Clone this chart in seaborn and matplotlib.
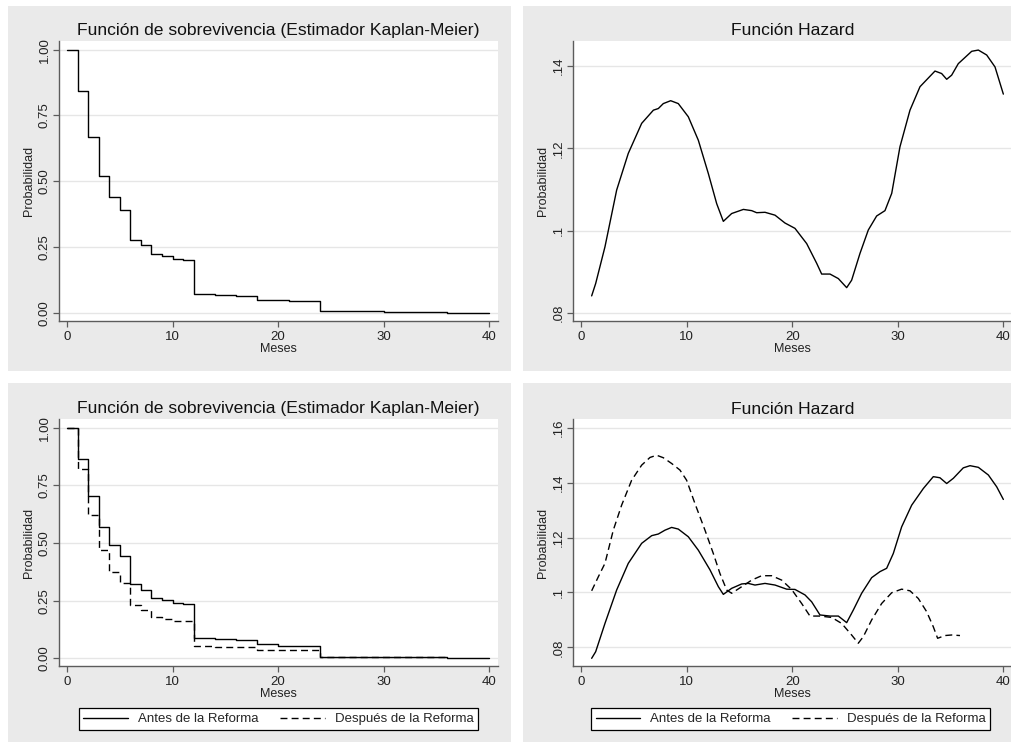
import matplotlib
matplotlib.use("Agg")
import matplotlib.pyplot as plt
from matplotlib.patches import Rectangle
from matplotlib.lines import Line2D
import pandas as pd
import seaborn as sns

# Supervivencia Kaplan-Meier, muestra completa
km_meses = [0, 1, 2, 3, 4, 5, 6, 7, 8, 9, 10, 11, 12, 14, 16, 18, 21, 24, 30, 36, 40]
km_total = [1.000, 0.843, 0.668, 0.521, 0.438, 0.389, 0.275, 0.256, 0.222, 0.214, 0.204,
            0.200, 0.072, 0.068, 0.065, 0.047, 0.044, 0.006, 0.003, 0.000, 0.000]

# Supervivencia Kaplan-Meier por grupo
km_antes_meses = [0, 1, 2, 3, 4, 5, 6, 7, 8, 9, 10, 11, 12, 14, 16, 18, 20, 24, 30, 36, 40]
km_antes = [1.000, 0.864, 0.705, 0.568, 0.491, 0.443, 0.321, 0.297, 0.260, 0.251, 0.241,
            0.237, 0.087, 0.082, 0.078, 0.061, 0.055, 0.007, 0.005, 0.000, 0.000]
km_despues_meses = [0, 1, 2, 3, 4, 5, 6, 7, 8, 9, 10, 11, 12, 14, 18, 24, 30, 36]
km_despues = [1.000, 0.821, 0.623, 0.469, 0.375, 0.328, 0.230, 0.208, 0.180, 0.172, 0.163,
              0.160, 0.055, 0.050, 0.036, 0.005, 0.004, 0.000]

# Función hazard suavizada, muestra completa
hz_meses = [0.98, 1.36, 2.24, 3.35, 4.45, 5.72, 6.83, 7.30, 7.77, 8.47, 9.19, 10.14, 11.09,
            12.04, 12.83, 13.46, 14.25, 15.36, 16.15, 16.62, 17.41, 18.36, 19.30, 20.25,
            21.36, 22.31, 22.78, 23.57, 24.36, 25.15, 25.62, 26.41, 27.20, 27.99, 28.78,
            29.42, 30.20, 31.15, 32.10, 33.52, 34.15, 34.63, 35.10, 35.73, 37.00, 37.63,
            38.42, 39.21, 40.00]
hz_total = [0.0842, 0.0872, 0.0961, 0.1099, 0.1188, 0.1261, 0.1293, 0.1297, 0.1309, 0.1316,
            0.1309, 0.1277, 0.1220, 0.1139, 0.1066, 0.1023, 0.1042, 0.1052, 0.1049, 0.1044,
            0.1045, 0.1038, 0.1019, 0.1006, 0.0969, 0.0921, 0.0895, 0.0895, 0.0884, 0.0862,
            0.0880, 0.0945, 0.1002, 0.1036, 0.1049, 0.1091, 0.1204, 0.1293, 0.1350, 0.1388,
            0.1382, 0.1368, 0.1378, 0.1406, 0.1436, 0.1439, 0.1427, 0.1398, 0.1332]

# Función hazard suavizada por grupo
hz_antes_meses = [0.98, 1.36, 2.24, 3.35, 4.45, 5.72, 6.67, 7.30, 7.93, 8.56, 9.19, 10.14,
                  11.09, 12.20, 12.99, 13.46, 14.25, 15.20, 15.83, 16.46, 17.41, 18.36,
                  19.46, 20.25, 21.20, 21.83, 22.62, 23.57, 24.36, 25.15, 25.78, 26.57,
                  27.52, 28.31, 28.94, 29.57, 30.36, 31.31, 32.42, 33.36, 33.99, 34.63,
                  35.26, 36.20, 36.84, 37.63, 38.58, 39.37, 40.00]
hz_antes = [0.0760, 0.0784, 0.0887, 0.1009, 0.1106, 0.1179, 0.1207, 0.1213, 0.1227, 0.1237,
            0.1231, 0.1203, 0.1154, 0.1082, 0.1021, 0.0993, 0.1015, 0.1031, 0.1033, 0.1027,
            0.1033, 0.1027, 0.1012, 0.1011, 0.0991, 0.0966, 0.0918, 0.0914, 0.0914, 0.0890,
            0.0936, 0.0997, 0.1054, 0.1076, 0.1088, 0.1142, 0.1239, 0.1318, 0.1379, 0.1422,
            0.1418, 0.1397, 0.1416, 0.1454, 0.1462, 0.1456, 0.1428, 0.1385, 0.1339]
hz_despues_meses = [0.98, 1.61, 2.24, 3.03, 3.82, 4.77, 5.72, 6.51, 7.14, 7.77, 8.56, 9.35,
                    9.98, 10.77, 11.72, 12.51, 13.14, 13.78, 14.25, 15.20, 16.15, 17.09,
                    18.04, 18.99, 19.93, 20.88, 21.67, 22.62, 23.73, 24.68, 25.62, 26.25,
                    26.73, 27.52, 28.47, 29.42, 30.36, 31.15, 31.94, 32.73, 33.36, 33.77,
                    34.47, 35.10, 35.89]
hz_despues = [0.1006, 0.1057, 0.1106, 0.1227, 0.1318, 0.1409, 0.1464, 0.1492, 0.1500, 0.1491,
              0.1470, 0.1446, 0.1409, 0.1324, 0.1227, 0.1142, 0.1069, 0.1009, 0.0997, 0.1021,
              0.1045, 0.1061, 0.1061, 0.1045, 0.1011, 0.0960, 0.0914, 0.0914, 0.0909, 0.0887,
              0.0845, 0.0815, 0.0839, 0.0900, 0.0960, 0.0999, 0.1012, 0.1006, 0.0978, 0.0930,
              0.0875, 0.0833, 0.0843, 0.0845, 0.0843]

grupos = ["Antes de la Reforma", "Después de la Reforma"]
titulo_km = "Función de sobrevivencia (Estimador Kaplan-Meier)"
titulo_hz = "Función Hazard"
km_ticks = [0, 0.25, 0.5, 0.75, 1.0]
km_ticklabels = ["0.00", "0.25", "0.50", "0.75", "1.00"]
hz_ticks_sup = [0.08, 0.10, 0.12, 0.14]
hz_ticks_inf = [0.08, 0.10, 0.12, 0.14, 0.16]
hz_ticklabels = [".08", ".1", ".12", ".14", ".16"]
x_ticks = [0, 10, 20, 30, 40]

sns.set_theme(style="white")
plt.rcParams["font.family"] = ["Liberation Sans", "DejaVu Sans"]

W, H = 1011, 742
fig = plt.figure(figsize=(W / 100, H / 100), dpi=100)
fig.patch.set_facecolor("white")

PANEL_GRAY = "#EAEAEA"
AXIS_GRAY = "#5C5C5C"
GRID_GRAY = "#E6E6E6"
DASHES = (5, 3)


def panel(x0, y0, x1, y1):
    fig.add_artist(Rectangle((x0 / W, 1 - y1 / H), (x1 - x0) / W, (y1 - y0) / H,
                             transform=fig.transFigure, facecolor=PANEL_GRAY,
                             edgecolor="none", zorder=-10))


def axes(x0, y0, x1, y1):
    return fig.add_axes([x0 / W, 1 - y1 / H, (x1 - x0) / W, (y1 - y0) / H])


def style(ax, title, ylim, yticks, yticklabels):
    ax.set_facecolor("white")
    ax.set_xlim(-0.76, 40.82)
    ax.set_ylim(*ylim)
    ax.set_xticks(x_ticks)
    ax.set_xticklabels([str(t) for t in x_ticks])
    ax.set_yticks(yticks)
    ax.set_yticklabels(yticklabels, rotation=90, va="center")
    for s in ["top", "right"]:
        ax.spines[s].set_visible(False)
    for s in ["left", "bottom"]:
        ax.spines[s].set_color(AXIS_GRAY)
        ax.spines[s].set_linewidth(1.0)
    ax.tick_params(axis="both", which="major", length=4, width=0.9, color=AXIS_GRAY,
                   labelsize=9.5, labelcolor="#222222", direction="out",
                   bottom=True, left=True)
    ax.tick_params(axis="y", pad=2)
    ax.tick_params(axis="x", pad=3)
    ax.grid(axis="y", color=GRID_GRAY, linewidth=1.0)
    ax.grid(axis="x", visible=False)
    ax.set_axisbelow(True)
    ax.set_title(title, fontsize=12.6, color="#111111", pad=4)
    ax.set_xlabel("Meses", fontsize=9, color="#222222", labelpad=0)
    ax.set_ylabel("Probabilidad", fontsize=9, color="#222222", labelpad=3)


def serie(ax, meses, valores, dashed=False, steps=False):
    df = pd.DataFrame({"Meses": meses, "Probabilidad": valores})
    kw = dict(data=df, x="Meses", y="Probabilidad", ax=ax, color="black",
              linewidth=1.0, estimator=None, legend=False)
    if steps:
        kw["drawstyle"] = "steps-post"
    sns.lineplot(**kw)
    if dashed:
        ax.lines[-1].set_dashes(DASHES)


def leyenda(cx, cy):
    handles = [Line2D([], [], color="black", linewidth=1.0),
               Line2D([], [], color="black", linewidth=1.0, dashes=DASHES)]
    leg = fig.legend(handles, grupos, loc="center", bbox_to_anchor=(cx / W, 1 - cy / H),
                     ncol=2, fontsize=9.5, frameon=True, fancybox=False, shadow=False,
                     handlelength=3.4, handletextpad=0.75, columnspacing=1.6,
                     borderpad=0.35)
    fr = leg.get_frame()
    fr.set_edgecolor("black")
    fr.set_linewidth(0.9)
    fr.set_facecolor("white")
    fr.set_alpha(1.0)


# Fondos de cada gráfico
panel(8, 6, 511, 371)
panel(523, 6, 1015, 371)
panel(8, 383, 511, 745)
panel(523, 383, 1015, 745)

# Kaplan-Meier, muestra completa
ax1 = axes(59, 41, 498, 321)
serie(ax1, km_meses, km_total, steps=True)
style(ax1, titulo_km, (-0.0316, 1.033), km_ticks, km_ticklabels)

# Hazard, muestra completa
ax2 = axes(573.3, 41, 1012, 321)
serie(ax2, hz_meses, hz_total)
style(ax2, titulo_hz, (0.0781, 0.1461), hz_ticks_sup, hz_ticklabels[:4])

# Kaplan-Meier por grupo
ax3 = axes(59, 419, 498, 666)
serie(ax3, km_antes_meses, km_antes, steps=True)
serie(ax3, km_despues_meses, km_despues, dashed=True, steps=True)
style(ax3, titulo_km, (-0.0334, 1.0377), km_ticks, km_ticklabels)
leyenda(278.4, 719.2)

# Hazard por grupo
ax4 = axes(573.3, 419.3, 1012, 666)
serie(ax4, hz_antes_meses, hz_antes)
serie(ax4, hz_despues_meses, hz_despues, dashed=True)
style(ax4, titulo_hz, (0.0732, 0.1631), hz_ticks_inf, hz_ticklabels)
leyenda(790.5, 719.2)

fig.savefig("out.png", dpi=100)
